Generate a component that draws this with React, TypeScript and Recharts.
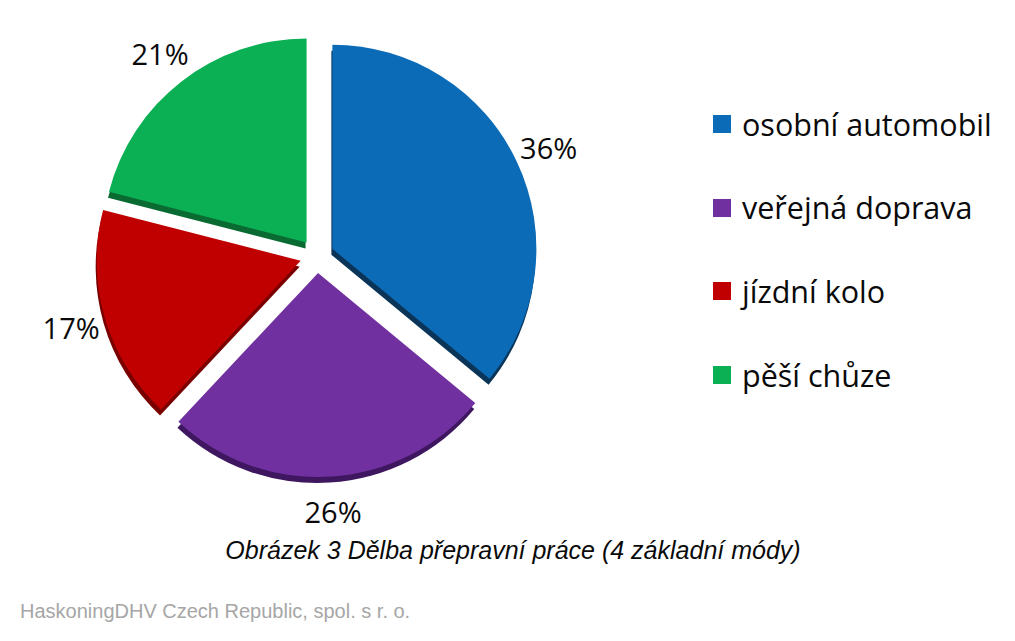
import React from "react";
import { PieChart, Pie, Cell, Sector, Legend } from "recharts";

const CATEGORIES = ["osobní automobil", "veřejná doprava", "jízdní kolo", "pěší chůze"];
const SHARES = [36, 26, 17, 21];
const COLORS = ["#0B6BB7", "#7030A0", "#C00000", "#0BAF54"];
const DARK_COLORS = ["#0A3558", "#3E1760", "#7A0000", "#0A6B32"];
const CAPTION = "Obrázek 3 Dělba přepravní práce (4 základní módy)";
const FOOTER = "HaskoningDHV Czech Republic, spol. s r. o.";

const data = CATEGORIES.map((name, i) => ({ name, value: SHARES[i] }));

const EXPLODE = 17;
const FONT = "'Open Sans', 'Noto Sans', sans-serif";

function ExplodedSlice(props: any) {
  const { cx, cy, innerRadius, outerRadius, startAngle, endAngle, fill, index } = props;
  const mid = props.midAngle ?? (startAngle + endAngle) / 2;
  const rad = (-mid * Math.PI) / 180;
  const ox = cx + EXPLODE * Math.cos(rad);
  const oy = cy + EXPLODE * Math.sin(rad);
  const i = typeof index === "number" ? index : CATEGORIES.indexOf(props.name ?? props.payload?.name);
  return (
    <g>
      <Sector
        cx={ox - 1}
        cy={oy + 6}
        innerRadius={innerRadius}
        outerRadius={outerRadius}
        startAngle={startAngle}
        endAngle={endAngle}
        fill={DARK_COLORS[i] ?? "#333"}
      />
      <Sector
        cx={ox}
        cy={oy}
        innerRadius={innerRadius}
        outerRadius={outerRadius}
        startAngle={startAngle}
        endAngle={endAngle}
        fill={fill}
      />
    </g>
  );
}

function renderLabel(props: any) {
  const { cx, cy, midAngle, outerRadius, value } = props;
  const rad = (-midAngle * Math.PI) / 180;
  const r = outerRadius + 52;
  const x = cx + r * Math.cos(rad);
  const y = cy + r * Math.sin(rad);
  return (
    <text
      x={x}
      y={y}
      textAnchor="middle"
      dominantBaseline="central"
      fontFamily={FONT}
      fontSize={29}
      fill="#0a0a0a"
    >
      {`${value}%`}
    </text>
  );
}

function renderLegend(props: any) {
  const payload = [...(props.payload || [])].sort(
    (a: any, b: any) => CATEGORIES.indexOf(a.value) - CATEGORIES.indexOf(b.value)
  );
  return (
    <div style={{ fontFamily: FONT }}>
      {payload.map((entry: any, i: number) => (
        <div
          key={i}
          style={{ display: "flex", alignItems: "center", height: 83.7 }}
        >
          <div
            style={{
              width: 18,
              height: 18,
              background: entry.color,
              marginRight: 11,
              flex: "0 0 auto",
            }}
          />
          <span style={{ fontSize: 30.5, color: "#0a0a0a", whiteSpace: "nowrap", lineHeight: 1 }}>
            {entry.value}
          </span>
        </div>
      ))}
    </div>
  );
}

export default function App() {
  return (
    <div
      style={{
        position: "absolute",
        left: 0,
        top: 0,
        width: 1015,
        height: 641,
        background: "#fff",
      }}
    >
      <PieChart width={1015} height={641} margin={{ top: 0, right: 0, bottom: 0, left: 0 }}>
        <Pie
          data={data}
          dataKey="value"
          nameKey="name"
          cx={317}
          cy={256}
          outerRadius={204}
          startAngle={90}
          endAngle={-270}
          stroke="none"
          isAnimationActive={false}
          labelLine={false}
          label={renderLabel}
          shape={ExplodedSlice}
          inactiveShape={ExplodedSlice}
          activeShape={ExplodedSlice}
        >
          {data.map((d, i) => (
            <Cell key={d.name} fill={COLORS[i]} />
          ))}
        </Pie>
        <Legend
          layout="vertical"
          align="right"
          verticalAlign="top"
          content={renderLegend}
          wrapperStyle={{ position: "absolute", left: 713, top: 82, width: 300 }}
        />
      </PieChart>
      <div
        style={{
          position: "absolute",
          left: 0,
          width: 1026,
          top: 536,
          textAlign: "center",
          fontFamily: "'Liberation Sans', Arial, sans-serif",
          fontStyle: "italic",
          fontSize: 25,
          color: "#0a0a0a",
          whiteSpace: "nowrap",
        }}
      >
        {CAPTION}
      </div>
      <div
        style={{
          position: "absolute",
          left: 20,
          top: 600,
          fontFamily: "'Liberation Sans', Arial, sans-serif",
          fontSize: 20,
          color: "#a6a6a6",
          whiteSpace: "nowrap",
        }}
      >
        {FOOTER}
      </div>
    </div>
  );
}
